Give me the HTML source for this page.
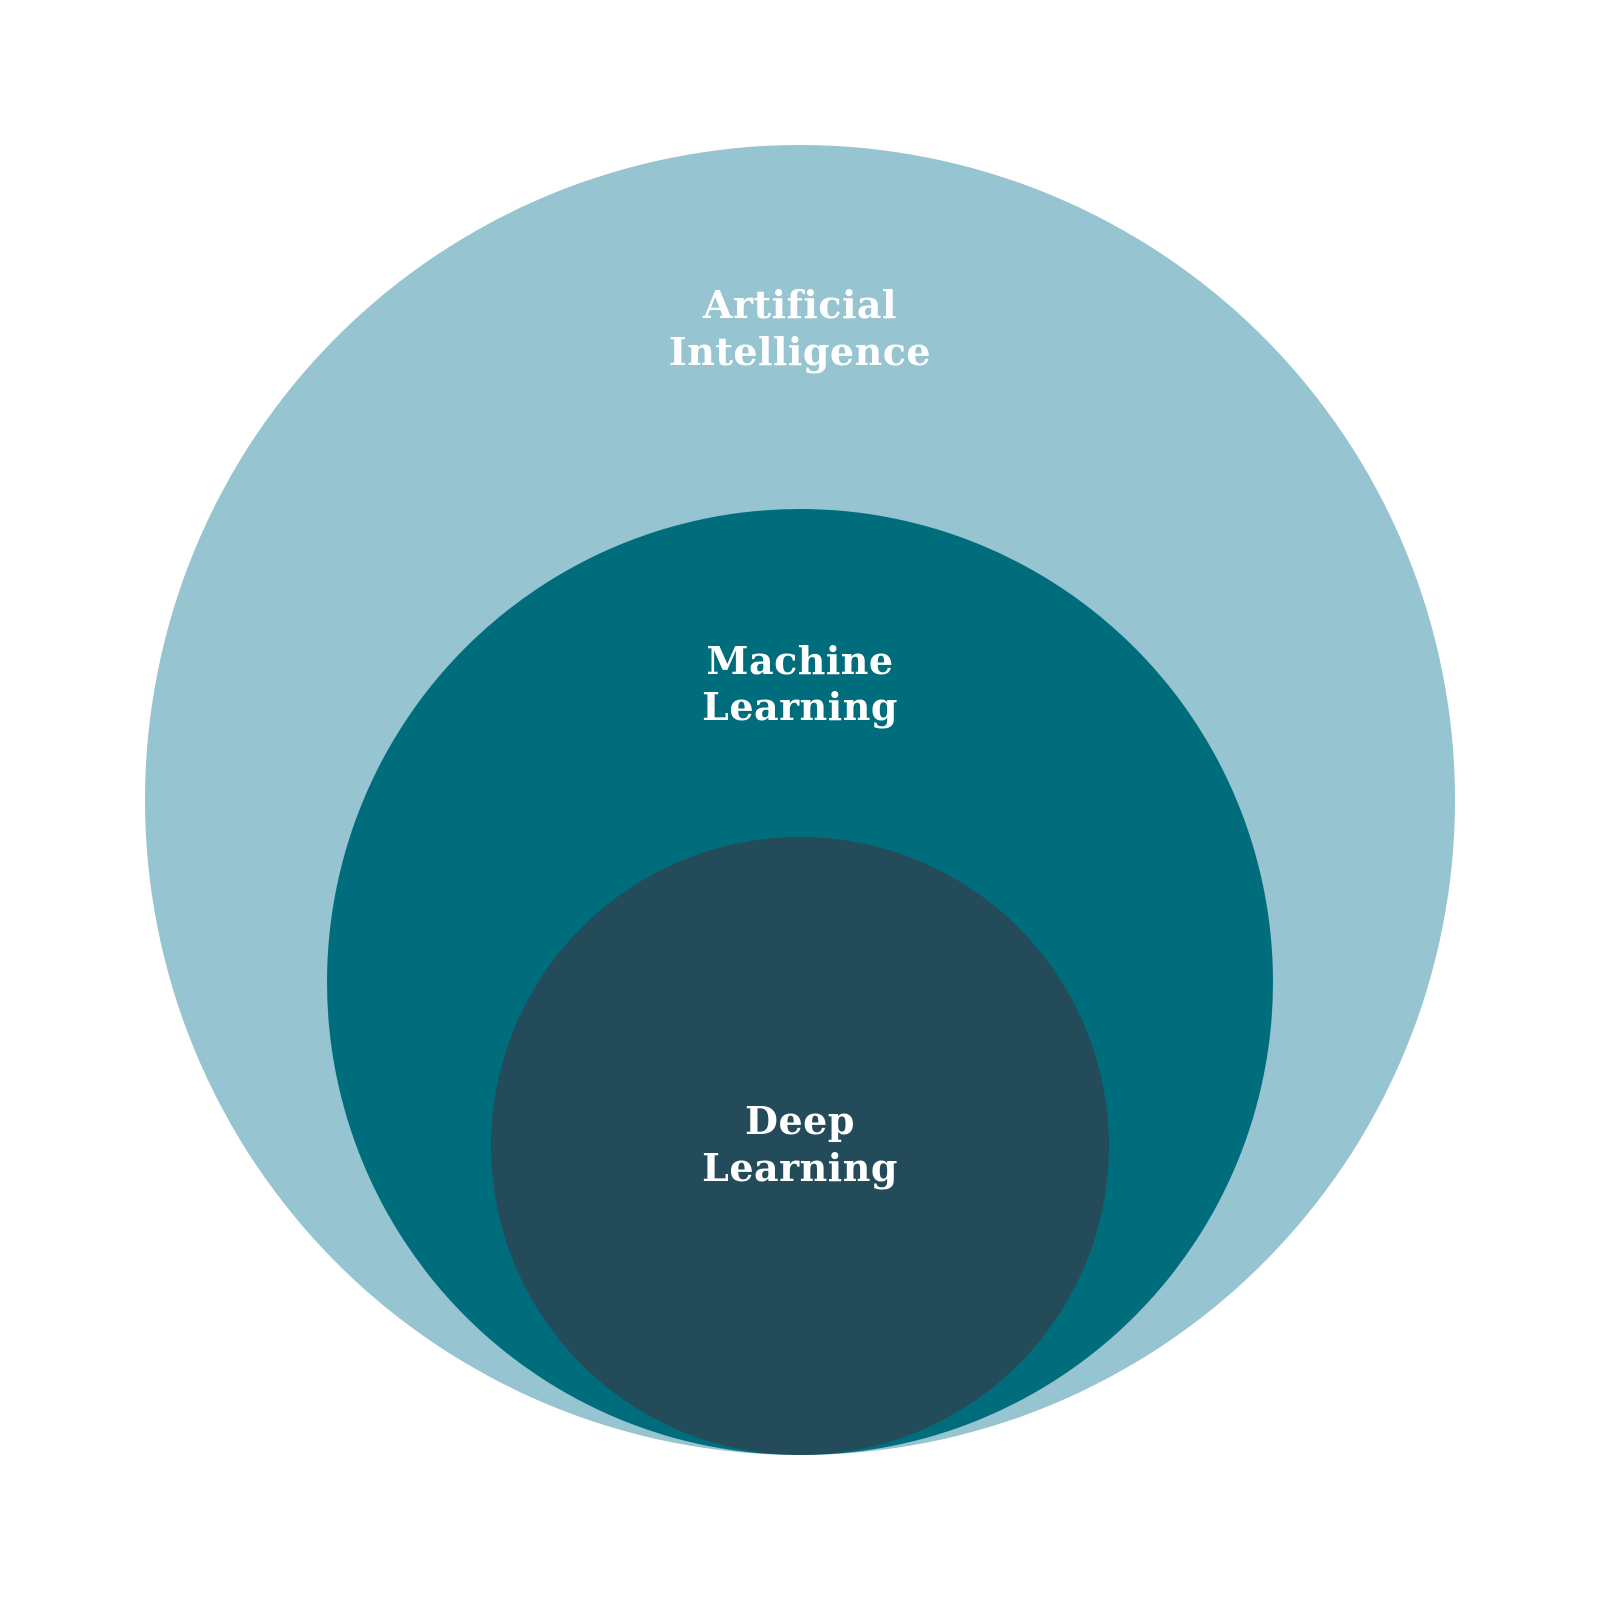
<!DOCTYPE html>
<html><head><style>html,body{margin:0;padding:0;background:#fff}</style></head>
<body>
<svg width="1600" height="1600" viewBox="0 0 1600 1600" xmlns="http://www.w3.org/2000/svg">
<circle cx="800" cy="800" r="655" fill="#96c4d1"/>
<circle cx="800" cy="982" r="473" fill="#006d7c"/>
<circle cx="800" cy="1146" r="309" fill="#244b59"/>
<g font-family="'DejaVu Serif', 'Liberation Serif', serif" font-weight="bold" font-size="38" fill="#fff" text-anchor="middle" letter-spacing="0.5">
<text x="800" y="318">Artificial</text>
<text x="800" y="365">Intelligence</text>
<text x="800" y="674">Machine</text>
<text x="800" y="720">Learning</text>
<text x="800" y="1134">Deep</text>
<text x="800" y="1181">Learning</text>
</g>
</svg>
</body></html>
